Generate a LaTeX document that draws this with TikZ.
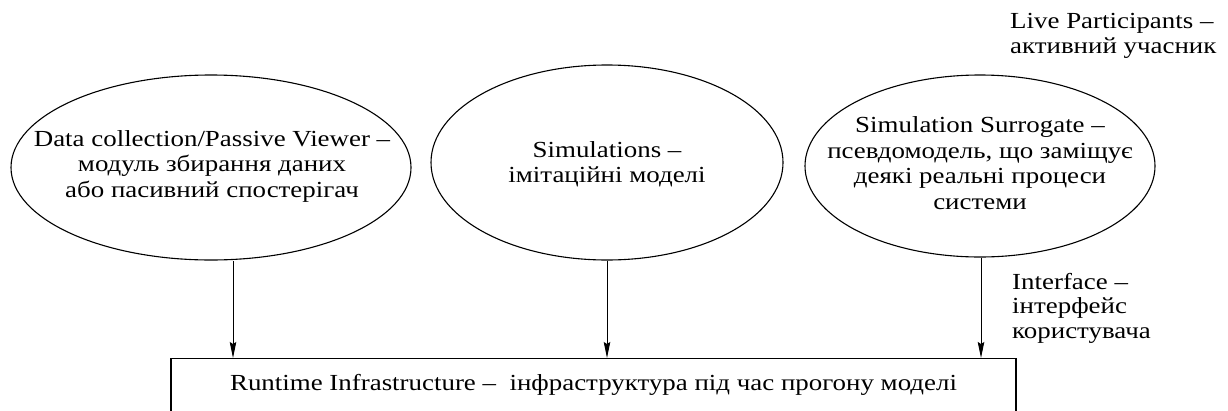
\documentclass[tikz,border=0pt]{standalone}
\usepackage{fontspec}
\setmainfont[FakeStretch=1.17]{Liberation Serif}
\usetikzlibrary{shapes.geometric,arrows.meta}
\begin{document}
\begin{tikzpicture}[x=1pt,y=-1pt,
  ell/.style={draw, ellipse, line width=1.1pt, inner sep=0pt},
  txt/.style={align=center, font=\fontsize{23}{25.5}\selectfont, inner sep=0pt},
  side/.style={align=left, font=\fontsize{23}{24.5}\selectfont, inner sep=0pt, anchor=west},
  arr/.style={-{Stealth[length=16pt,width=6.5pt,inset=2pt]}, line width=1pt},
  rtibox/.style={draw, line width=1.1pt, anchor=north, minimum width=845pt,
    text height=16pt, text depth=9pt, inner ysep=16pt,
    font=\fontsize{23}{22}\selectfont}]
\useasboundingbox (0,0) rectangle (1228,410);
\clip (0,0) rectangle (1228,410);

% ellipses
\node[ell, minimum width=400pt, minimum height=185pt] (dc) at (211,167.5) {};
\node[txt] (dctext) at (212,166) {Data collection/Passive Viewer –\\модуль збирання даних\\або пасивний спостерігач};

\node[ell, minimum width=352pt, minimum height=195pt] (sim) at (607,162.5) {};
\node[txt] (simtext) at (607,164) {Simulations –\\імітаційні моделі};

\node[ell, minimum width=350pt, minimum height=182pt] (sur) at (980,166) {};
\node[txt] (surtext) at (980,163) {Simulation Surrogate –\\псевдомодель, що заміщує\\деякі реальні процеси\\системи};

% side labels
\node[side] (live) at (1010,36) {Live Participants –\\активний учасник};
\node[side] (intf) at (1012,308) {Interface –\\інтерфейс\\користувача};

% runtime infrastructure box
\node[rtibox] (rti) at (593.5,358) {Runtime Infrastructure –\ \ інфраструктура під час прогону моделі};

% connectors
\draw[arr] ([xshift=22pt]dc.south) -- ([xshift=22pt]dc.south |- rti.north);
\draw[arr] (sim.south) -- (sim.south |- rti.north);
\draw[arr] ([xshift=1pt]sur.south) -- ([xshift=1pt]sur.south |- rti.north);
\end{tikzpicture}
\end{document}
